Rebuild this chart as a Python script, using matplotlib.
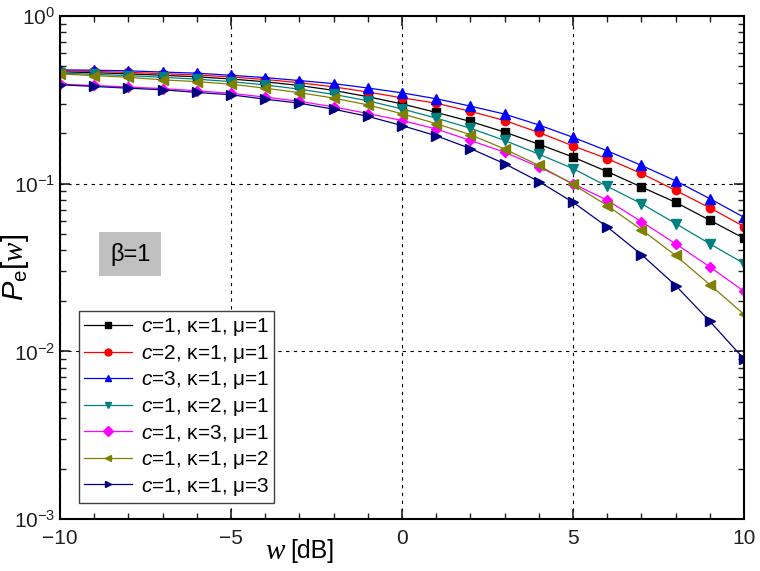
import numpy as np
import matplotlib.pyplot as plt
from matplotlib.ticker import LogLocator, FixedLocator, MultipleLocator, NullFormatter

plt.rcParams["font.family"] = ["Liberation Sans", "DejaVu Sans"]
plt.rcParams["mathtext.fontset"] = "custom"
plt.rcParams["mathtext.rm"] = "Liberation Sans"
plt.rcParams["mathtext.it"] = "Liberation Sans:italic"
plt.rcParams["mathtext.cal"] = "Liberation Serif:italic"

w_db = list(range(-10, 11))
x_ticks = [-10, -5, 0, 5, 10]
x_tick_labels = ["\u221210", "\u22125", "0", "5", "10"]

pe_c1_k1_m1 = [0.465, 0.459, 0.452, 0.443, 0.434, 0.421, 0.405, 0.385, 0.360, 0.330, 0.299,
               0.266, 0.235, 0.203, 0.172, 0.144, 0.118, 0.0955, 0.0774, 0.0605, 0.0472]
pe_c2_k1_m1 = [0.471, 0.467, 0.461, 0.453, 0.445, 0.433, 0.418, 0.400, 0.378, 0.352, 0.325,
               0.302, 0.270, 0.238, 0.202, 0.168, 0.141, 0.115, 0.0912, 0.0717, 0.0555]
pe_c3_k1_m1 = [0.477, 0.475, 0.471, 0.463, 0.456, 0.443, 0.429, 0.412, 0.395, 0.372, 0.348,
               0.321, 0.290, 0.260, 0.224, 0.189, 0.157, 0.1285, 0.104, 0.0814, 0.063]
pe_c1_k2_m1 = [0.456, 0.449, 0.441, 0.431, 0.420, 0.406, 0.388, 0.366, 0.341, 0.312, 0.279,
               0.246, 0.214, 0.181, 0.150, 0.123, 0.0964, 0.076, 0.0578, 0.0438, 0.0334]
pe_c1_k3_m1 = [0.392, 0.385, 0.377, 0.369, 0.358, 0.346, 0.328, 0.310, 0.287, 0.262, 0.238,
               0.212, 0.181, 0.154, 0.126, 0.100, 0.0796, 0.0594, 0.0438, 0.0319, 0.0228]
pe_c1_k1_m2 = [0.451, 0.441, 0.431, 0.416, 0.406, 0.392, 0.371, 0.349, 0.324, 0.295, 0.261,
               0.228, 0.196, 0.161, 0.1285, 0.099, 0.074, 0.0532, 0.0373, 0.025, 0.0166]
pe_c1_k1_m3 = [0.389, 0.380, 0.371, 0.363, 0.350, 0.339, 0.319, 0.302, 0.278, 0.252, 0.222,
               0.193, 0.162, 0.1315, 0.103, 0.0775, 0.0552, 0.0378, 0.0247, 0.0151, 0.009]

series = [
    (pe_c1_k1_m1, "black", "s", r"$\mathit{c}$=1, κ=1, μ=1"),
    (pe_c2_k1_m1, "red", "o", r"$\mathit{c}$=2, κ=1, μ=1"),
    (pe_c3_k1_m1, "blue", "^", r"$\mathit{c}$=3, κ=1, μ=1"),
    (pe_c1_k2_m1, "#008080", "v", r"$\mathit{c}$=1, κ=2, μ=1"),
    (pe_c1_k3_m1, "magenta", "D", r"$\mathit{c}$=1, κ=3, μ=1"),
    (pe_c1_k1_m2, "#808000", "<", r"$\mathit{c}$=1, κ=1, μ=2"),
    (pe_c1_k1_m3, "#000080", ">", r"$\mathit{c}$=1, κ=1, μ=3"),
]

fig = plt.figure(figsize=(7.6, 5.71), dpi=100)
ax = fig.add_axes([0.079, 0.091, 0.900, 0.881])

for vals, color, marker, label in series:
    ms = 6 if marker in ("s", "o") else 7
    if marker == "D":
        ms = 5.5
    ax.plot(w_db, vals, color=color, marker=marker, markersize=ms, linewidth=0.9,
            label=label)

ax.set_yscale("log")
ax.set_xlim(-10, 10)
ax.set_ylim(1e-3, 1)
ax.xaxis.set_major_locator(FixedLocator(x_ticks))
ax.set_xticklabels(x_tick_labels)
ax.xaxis.set_minor_locator(MultipleLocator(1))
ax.yaxis.set_major_locator(LogLocator(base=10, numticks=10))
ax.yaxis.set_minor_locator(LogLocator(base=10, subs=np.arange(2, 10), numticks=20))
ax.yaxis.set_minor_formatter(NullFormatter())

ax.tick_params(which="both", direction="in", top=True, right=True, labelsize=15,
               colors="#202020")
ax.tick_params(which="major", length=7, width=1.2)
ax.tick_params(which="minor", length=4, width=1.0)
ax.tick_params(axis="x", pad=7)
for s in ax.spines.values():
    s.set_linewidth(1.5)

ax.grid(True, which="major", linestyle=(0, (3, 4)), color="black", linewidth=0.8)

ax.set_ylabel(r"$\mathit{P}_{\mathrm{e}}[\mathcal{w}]$", fontsize=21)
ax.yaxis.set_label_coords(-0.043, 0.5)
ax.text(-3.4, -0.063, r"$\mathcal{w}$", transform=ax.get_xaxis_transform(),
        fontsize=21, ha="right", va="center")
ax.text(-3.28, -0.063, "[dB]", transform=ax.get_xaxis_transform(),
        fontsize=18, ha="left", va="center")

ax.text(-7.95, 10 ** -1.42, "\u03b2=1", fontsize=17, ha="center", va="center",
        bbox=dict(boxstyle="square,pad=0.45", facecolor="#c0c0c0", edgecolor="none"))

leg = ax.legend(loc="lower left", bbox_to_anchor=(0.028, 0.032), fontsize=15,
                frameon=True, fancybox=False, edgecolor="#404040", framealpha=1,
                handlelength=2.3, handletextpad=0.4, borderpad=0.25, labelspacing=0.22,
                borderaxespad=0)
leg.get_frame().set_linewidth(1.0)
for h in leg.legend_handles:
    h.set_markersize(5)

fig.savefig("out.png", dpi=100)
